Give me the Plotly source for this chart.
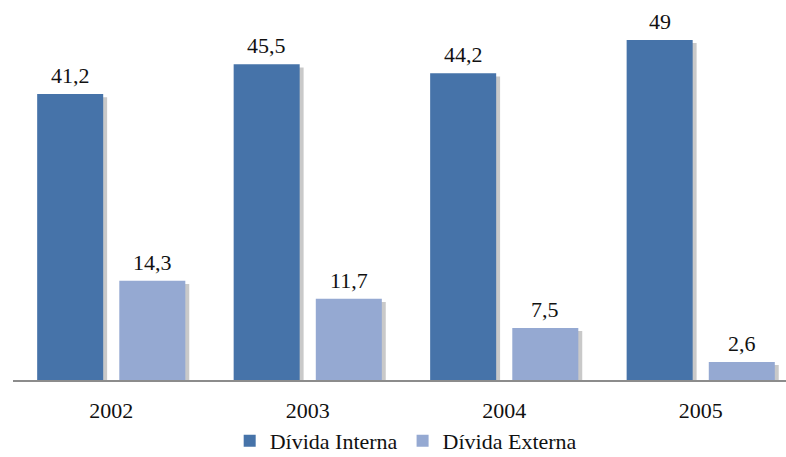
import plotly.graph_objects as go

years = ["2002", "2003", "2004", "2005"]
divida_interna = [41.2, 45.5, 44.2, 49.0]
divida_externa = [14.3, 11.7, 7.5, 2.6]

series_names = ["Dívida Interna", "Dívida Externa"]
colors = ["#4673A9", "#95A9D2"]

FONT = "Liberation Serif, Times New Roman, serif"
bar_w = 0.336      # width of each bar in category units
inner_gap = 0.082  # gap between the two bars of a year
shadow_dx = 0.02   # horizontal shift of the drop shadow


def fmt(v):
    return f"{v:g}".replace(".", ",")


fig = go.Figure()
offsets = [-(bar_w + inner_gap / 2), inner_gap / 2]
annotations = []
for name, vals, col, off in zip(series_names, [divida_interna, divida_externa], colors, offsets):
    # soft drop shadow behind each bar
    fig.add_trace(go.Bar(
        x=years, y=[v - 0.45 for v in vals], width=bar_w, offset=off + shadow_dx,
        marker=dict(color="rgba(90,90,90,0.33)", line=dict(width=0)),
        showlegend=False, hoverinfo="skip",
    ))
    fig.add_trace(go.Bar(
        x=years, y=vals, name=name, width=bar_w, offset=off,
        marker=dict(color=col, line=dict(width=0)),
    ))
    # value labels above the bars (x given as category index + bar centre offset)
    for i, v in enumerate(vals):
        annotations.append(dict(
            x=i + off + bar_w / 2, y=v, xref="x", yref="y", text=fmt(v),
            showarrow=False, xanchor="center", yanchor="bottom", yshift=4,
            font=dict(family=FONT, size=22, color="#111111"),
        ))

fig.update_layout(
    barmode="overlay",
    width=786, height=457,
    margin=dict(l=13, r=0, t=0, b=77, autoexpand=False),
    paper_bgcolor="white", plot_bgcolor="white",
    font=dict(family=FONT, size=22, color="#111111"),
    annotations=annotations,
    showlegend=True,
    legend=dict(
        orientation="h", x=0.508, xanchor="center",
        yref="container", y=0.035, yanchor="middle",
        font=dict(family=FONT, size=22, color="#111111"),
        traceorder="normal", itemwidth=30,
    ),
    xaxis=dict(
        type="category", range=[-0.5, 3.434], automargin=False,
        showline=True, linecolor="#8C8C8C", linewidth=1.5,
        ticks="", ticklabelstandoff=10,
        tickfont=dict(family=FONT, size=22, color="#111111"),
        showgrid=False, fixedrange=True,
    ),
    yaxis=dict(
        range=[0, 54.76], visible=False, showgrid=False, zeroline=False,
    ),
)

fig.write_html("out.html")
